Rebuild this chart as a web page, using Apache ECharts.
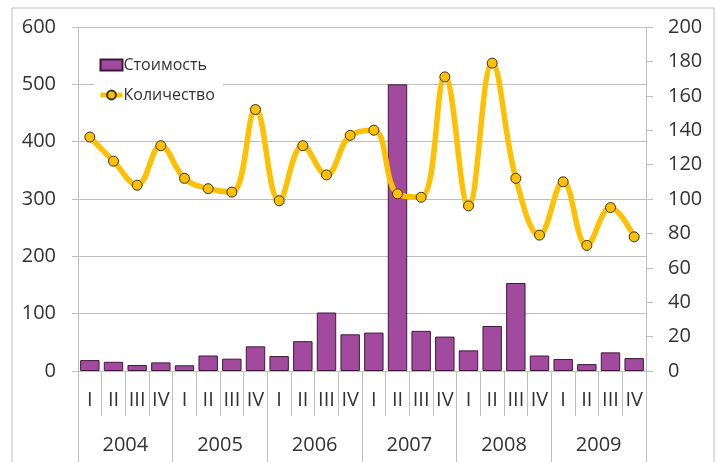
<!DOCTYPE html>
<html>
<head>
<meta charset="utf-8">
<script src="https://cdn.jsdelivr.net/npm/echarts@6/dist/echarts.min.js"></script>
<style>
  html, body { margin: 0; padding: 0; background: #fff; }
  #chart { width: 725px; height: 462px; }
</style>
</head>
<body>
<div id="chart"></div>
<script>
// quarters x years
const quarters = ["I", "II", "III", "IV", "I", "II", "III", "IV", "I", "II", "III", "IV",
  "I", "II", "III", "IV", "I", "II", "III", "IV", "I", "II", "III", "IV"];
const years = ["2004", "2005", "2006", "2007", "2008", "2009"];
// Стоимость (left axis)
const costValues = [19, 16, 10.5, 15, 10, 27, 21.5, 43, 26, 52, 102, 64,
  67, 500, 70, 60, 36, 78.5, 153.5, 27, 21, 12, 32.5, 22.5];
// Количество (right axis)
const countValues = [136, 122, 108, 131, 112, 106, 104, 152, 99, 131, 114, 137,
  140, 103, 101, 171, 96, 179, 112, 79, 110, 73, 95, 78];

const font = "'Open Sans', sans-serif";
const textColor = "#333";
const gridColor = "#bfbfbf";

const chart = echarts.init(document.getElementById("chart"));
chart.setOption({
  backgroundColor: "#fff",
  animation: false,
  textStyle: { fontFamily: font },
  graphic: [
    {
      type: "rect",
      shape: { x: 12, y: 8, width: 702, height: 470 },
      style: { fill: "none", stroke: gridColor, lineWidth: 1 },
      silent: true,
    },
  ],
  legend: {
    orient: "vertical",
    left: 94,
    top: 53,
    itemWidth: 22,
    itemHeight: 11,
    itemGap: 14,
    padding: [4, 8, 4, 4],
    backgroundColor: "#fff",
    lineStyle: { width: 5 },
    textStyle: { fontSize: 16, color: textColor, fontFamily: font, padding: [0, 0, 0, -4] },
    data: [
      { name: "Стоимость", icon: "rect" },
      { name: "Количество" },
    ],
  },
  grid: {
    left: 78,
    right: 79,
    top: 27,
    bottom: 91,
    containLabel: false,
  },
  xAxis: [
    {
      type: "category",
      data: quarters,
      position: "bottom",
      axisLine: { show: true, lineStyle: { color: gridColor } },
      axisTick: { show: true, length: 45, alignWithLabel: false, lineStyle: { color: gridColor } },
      axisLabel: { interval: 0, margin: 19, fontSize: 20, color: textColor, fontFamily: font },
    },
    {
      type: "category",
      data: years,
      position: "bottom",
      axisLine: { show: false },
      axisTick: { show: true, length: 95, lineStyle: { color: gridColor } },
      axisLabel: { interval: 0, margin: 64, fontSize: 20, color: textColor, fontFamily: font },
    },
  ],
  yAxis: [
    {
      type: "value",
      min: 0,
      max: 600,
      interval: 100,
      position: "left",
      axisLine: { show: true, lineStyle: { color: gridColor } },
      axisTick: { show: true, length: 6, lineStyle: { color: gridColor } },
      axisLabel: { margin: 22, fontSize: 20, color: textColor, fontFamily: font },
      splitLine: { show: true, lineStyle: { color: gridColor } },
    },
    {
      type: "value",
      min: 0,
      max: 200,
      interval: 20,
      position: "right",
      axisLine: { show: true, lineStyle: { color: gridColor } },
      axisTick: { show: true, length: 7, lineStyle: { color: gridColor } },
      axisLabel: { margin: 22, fontSize: 20, color: textColor, fontFamily: font },
      splitLine: { show: false },
    },
  ],
  series: [
    {
      name: "Стоимость",
      type: "bar",
      xAxisIndex: 0,
      yAxisIndex: 0,
      barWidth: "82%",
      itemStyle: { color: "#a24a9d", borderColor: "#3b1a38", borderWidth: 1 },
      data: costValues,
    },
    {
      name: "Количество",
      type: "line",
      xAxisIndex: 0,
      yAxisIndex: 1,
      smooth: 0.4,
      symbol: "circle",
      symbolSize: 10,
      z: 5,
      lineStyle: { color: "#ffc000", width: 5.5 },
      itemStyle: { color: "#ffc000", borderColor: "#333", borderWidth: 1 },
      data: countValues,
    },
  ],
});
</script>
</body>
</html>
